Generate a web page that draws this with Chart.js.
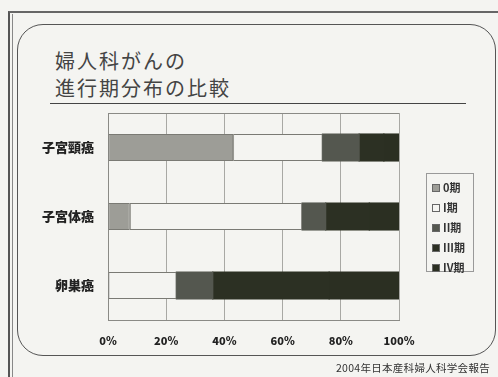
<!DOCTYPE html>
<html>
<head>
<meta charset="utf-8">
<script src="https://cdn.jsdelivr.net/npm/chart.js@4"></script>
<style>
  html, body { margin: 0; padding: 0; }
  body {
    width: 498px; height: 377px; overflow: hidden; position: relative;
    background: #f4f4f1;
    font-family: "Noto Sans CJK JP", "Noto Sans", sans-serif;
  }
  #frame {
    position: absolute; left: 8px; top: 11px; width: 520px; height: 400px;
    border-left: 2px solid #555; border-top: 2px solid #666;
    z-index: 5;
  }
  #frame2 {
    position: absolute; left: 12px; top: 14px; width: 1px; height: 400px;
    background: #888; z-index: 5;
  }
  #card {
    position: absolute; left: 17px; top: 24px; width: 477px; height: 330px;
    border: 1.5px solid #555; border-radius: 26px;
  }
  #title {
    position: absolute; left: 55px; top: 47px; margin: 0;
    font-size: 20px; font-weight: 400; line-height: 27px; letter-spacing: 2px;
    color: #444;
  }
  #rule {
    position: absolute; left: 50px; top: 103px; width: 416px; height: 0;
    border-top: 1.5px solid #444;
  }
  #chartBox { position: absolute; left: 0; top: 0; width: 498px; height: 377px; }
  #legend {
    position: absolute; left: 426px; top: 173px; width: 48px; height: 99px;
    border: 1px solid #999; box-sizing: border-box; padding-top: 3px;
  }
  .item {
    height: 20px; line-height: 20px; font-size: 11px; font-weight: 700;
    color: #333; padding-left: 5px; white-space: nowrap;
  }
  .item i {
    display: inline-block; width: 6px; height: 6px; margin-right: 3px;
    border: 1px solid #666; vertical-align: 0px;
  }
  #note {
    position: absolute; right: 8px; top: 360px;
    font-size: 10.5px; color: #333; letter-spacing: 0.3px;
  }
</style>
</head>
<body>
<div id="card"></div>
<h1 id="title">婦人科がんの<br>進行期分布の比較</h1>
<div id="rule"></div>
<div id="chartBox"><canvas id="chart" width="498" height="377"></canvas></div>
<div id="legend"></div>
<div id="note">2004年日本産科婦人科学会報告</div>
<div id="frame"></div>
<div id="frame2"></div>

<script>
// ===== data =====
const cancers = ['子宮頸癌', '子宮体癌', '卵巣癌'];
const stages = ['0期', 'I期', 'II期', 'III期', 'IV期'];

const stage0 = [43, 7.5, 0];
const stage1 = [30.7, 59.2, 23.5];
const stage2 = [12.6, 8.1, 12.5];
const stage3 = [8.5, 15, 40];
const stage4 = [5.2, 10.2, 24];

const tickLabels = ['0%', '20%', '40%', '60%', '80%', '100%'];

const stageColors = ['#9d9d97', '#f4f4f1', '#54574f', '#2c3023', '#2b2f22'];

// ===== chart =====
const series = [stage0, stage1, stage2, stage3, stage4];

// light stages get a thin outline, dark ones none (no seams)
const datasets = series.map((vals, i) => ({
    label: stages[i],
    data: vals,
    backgroundColor: stageColors[i],
    borderColor: '#7a7a74',
    borderWidth: i < 2 ? 1 : 0,
    borderSkipped: false,
    inflateAmount: i < 2 ? 0 : 0.6,
    categoryPercentage: 1,
    barPercentage: 0.39
}));

const boldFont = { family: '"Noto Sans CJK JP", sans-serif', weight: '900' };

new Chart(document.getElementById('chart'), {
    type: 'bar',
    data: { labels: cancers, datasets },
    options: {
        indexAxis: 'y',
        responsive: false,
        animation: false,
        layout: { padding: { left: 8, top: 113, right: 99, bottom: 27 } },
        plugins: {
            legend: { display: false },
            tooltip: { enabled: false }
        },
        scales: {
            x: {
                stacked: true,
                min: 0,
                max: 100,
                afterFit(s) { s.height = 30; },
                afterBuildTicks(s) {
                    s.ticks = tickLabels.map((_, i) => ({ value: i * 20 }));
                },
                ticks: {
                    padding: 14,
                    color: '#222',
                    font: { ...boldFont, size: 11 },
                    callback: (v, i) => tickLabels[i]
                },
                grid: { color: '#a8a8a4', drawTicks: false },
                border: { color: '#8a8a86' }
            },
            y: {
                stacked: true,
                afterFit(s) { s.width = 100; },
                ticks: {
                    padding: 14,
                    color: '#222',
                    font: { ...boldFont, size: 13 }
                },
                grid: {
                    offset: true,
                    drawTicks: false,
                    color: ctx => (ctx.index === 0 || ctx.index === undefined) ? '#8a8a86' : 'transparent'
                },
                border: { color: '#8a8a86' }
            }
        }
    }
});

// ===== legend =====
const legendEl = document.getElementById('legend');
stages.forEach((s, i) => {
    const row = document.createElement('div');
    row.className = 'item';
    const sw = document.createElement('i');
    sw.style.background = stageColors[i];
    row.appendChild(sw);
    row.append(s);
    legendEl.appendChild(row);
});
</script>
</body>
</html>
